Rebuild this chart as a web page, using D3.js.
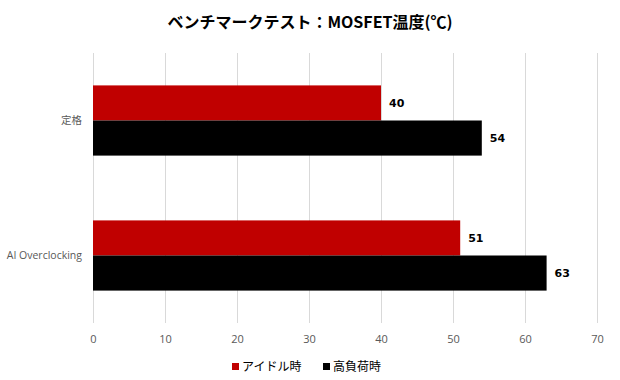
<!DOCTYPE html>
<html>
<head>
<meta charset="utf-8">
<script src="https://cdn.jsdelivr.net/npm/d3@7"></script>
<style>
  body { margin: 0; background: #fff; }
  svg { display: block; }
</style>
</head>
<body>
<svg id="chart" width="620" height="380"></svg>
<script>
// Chart data
var categories = ["定格", "AI Overclocking"];
var seriesNames = ["アイドル時", "高負荷時"];
var idleValues = [40, 51];
var loadValues = [54, 63];
var xTicks = [0, 10, 20, 30, 40, 50, 60, 70];
var colors = ["#c00000", "#000000"];

var margin = {top: 53, right: 23, bottom: 57, left: 93},
    width = 620 - margin.left - margin.right,
    height = 380 - margin.top - margin.bottom;

var svg = d3.select("#chart");

// Title
svg.append("text")
    .attr("x", 310)
    .attr("y", 28)
    .attr("text-anchor", "middle")
    .style("font-family", "'Noto Sans CJK JP', sans-serif")
    .style("font-weight", "bold")
    .style("font-size", "16px")
    .style("fill", "#000")
    .text("ベンチマークテスト：MOSFET温度(℃)");

var g = svg.append("g")
    .attr("transform", "translate(" + margin.left + "," + margin.top + ")");

// Scales
var x = d3.scaleLinear().domain([0, 70]).range([0, width]);
var y = d3.scaleBand().domain(categories).range([0, height])
    .paddingInner(0.48).paddingOuter(0.24);
var ySub = d3.scaleBand().domain(seriesNames).range([0, y.bandwidth()]);

// Gridlines
g.append("g")
    .selectAll("line")
    .data(xTicks)
    .enter()
    .append("line")
    .attr("x1", function(d) { return Math.round(x(d)) + 0.5; })
    .attr("x2", function(d) { return Math.round(x(d)) + 0.5; })
    .attr("y1", 0)
    .attr("y2", height)
    .attr("stroke", "#d9d9d9")
    .attr("stroke-width", 1);

// X axis labels
var xAxis = d3.axisBottom(x).tickValues(xTicks).tickSize(0).tickPadding(12);
g.append("g")
    .attr("transform", "translate(0," + height + ")")
    .call(xAxis)
    .call(function(s) { s.select(".domain").remove(); })
    .selectAll("text")
    .style("font-family", "'Open Sans', sans-serif")
    .style("font-size", "11px")
    .style("fill", "#595959");

// Y axis labels
var yAxis = d3.axisLeft(y).tickSize(0).tickPadding(11);
g.append("g")
    .call(yAxis)
    .call(function(s) { s.select(".domain").remove(); })
    .selectAll("text")
    .style("font-family", "'Open Sans', 'Noto Sans CJK JP', sans-serif")
    .style("font-size", "10.5px")
    .style("fill", "#595959");

// Bars
var rows = categories.map(function(c, i) {
    return {cat: c, values: [
        {name: seriesNames[0], value: idleValues[i], color: colors[0]},
        {name: seriesNames[1], value: loadValues[i], color: colors[1]}
    ]};
});

var groups = g.selectAll(".group")
    .data(rows)
    .enter()
    .append("g")
    .attr("class", "group")
    .attr("transform", function(d) { return "translate(0," + y(d.cat) + ")"; });

groups.selectAll("rect")
    .data(function(d) { return d.values; })
    .enter()
    .append("rect")
    .attr("x", x(0))
    .attr("y", function(d) { return ySub(d.name); })
    .attr("width", function(d) { return x(d.value) - x(0); })
    .attr("height", ySub.bandwidth())
    .attr("fill", function(d) { return d.color; });

// Value labels
groups.selectAll(".val")
    .data(function(d) { return d.values; })
    .enter()
    .append("text")
    .attr("class", "val")
    .attr("x", function(d) { return x(d.value) + 8; })
    .attr("y", function(d) { return ySub(d.name) + ySub.bandwidth() / 2; })
    .attr("dy", "0.35em")
    .style("font-family", "'DejaVu Sans', sans-serif")
    .style("font-weight", "bold")
    .style("font-size", "11px")
    .style("fill", "#000")
    .text(function(d) { return d.value; });

// Legend
var legend = svg.append("g")
    .attr("transform", "translate(0,367)");

var legendX = [232, 323];
seriesNames.forEach(function(name, i) {
    legend.append("rect")
        .attr("x", legendX[i])
        .attr("y", -4)
        .attr("width", 7)
        .attr("height", 7)
        .attr("fill", colors[i]);
    legend.append("text")
        .attr("x", legendX[i] + 10)
        .attr("y", 0)
        .attr("dy", "0.35em")
        .style("font-family", "'Noto Sans CJK JP', sans-serif")
        .style("font-size", "12px")
        .style("fill", "#000")
        .text(name);
});
</script>
</body>
</html>
